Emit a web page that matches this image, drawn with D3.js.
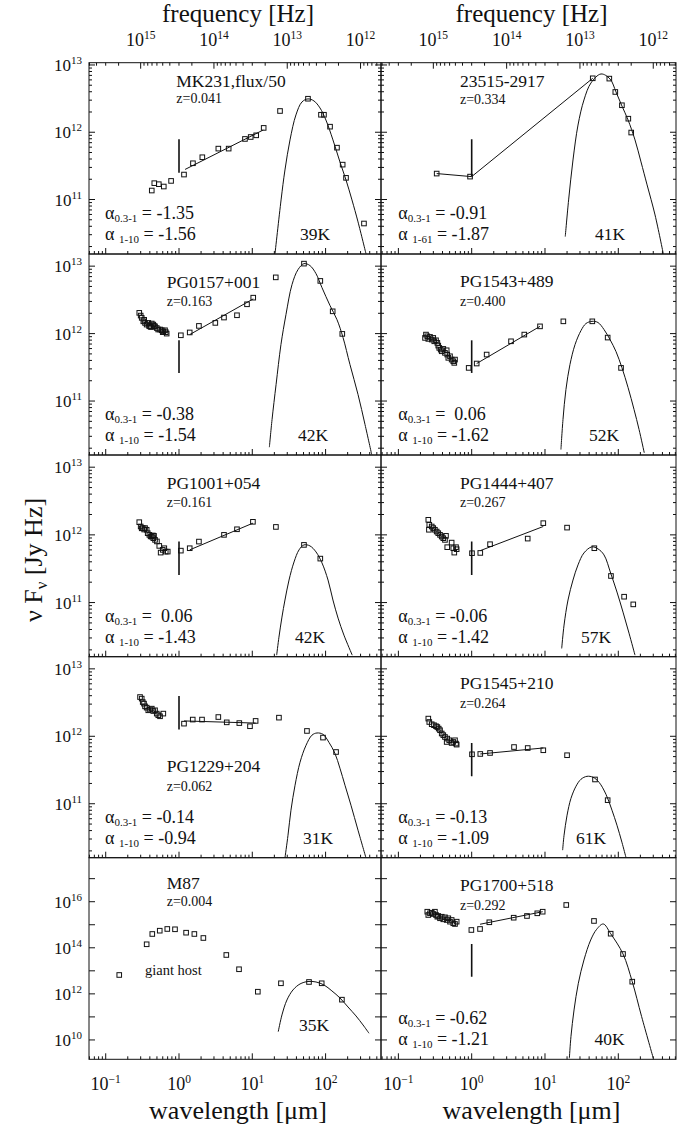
<!DOCTYPE html>
<html><head><meta charset="utf-8">
<script src="https://cdn.jsdelivr.net/npm/d3@7"></script>
<style>
html,body{margin:0;padding:0;background:#fff;}
svg{display:block;font-family:'Liberation Serif','Times New Roman',serif;}
text{fill:#111;white-space:pre;}
</style></head><body>
<script>
// ---------------- DATA ----------------
const panelNames = ["MK231,flux/50","23515-2917","PG0157+001","PG1543+489","PG1001+054","PG1444+407","PG1229+204","PG1545+210","M87","PG1700+518"];
const redshifts  = ["z=0.041","z=0.334","z=0.163","z=0.400","z=0.161","z=0.267","z=0.062","z=0.264","z=0.004","z=0.292"];
const alphaOpt   = ["-1.35","-0.91","-0.38"," 0.06"," 0.06","-0.06","-0.14","-0.13",null,"-0.62"];
const alphaIR    = ["-1.56","-1.87","-1.54","-1.62","-1.43","-1.42","-0.94","-1.09",null,"-1.21"];
const alphaIRSub = ["1-10","1-61","1-10","1-10","1-10","1-10","1-10","1-10",null,"1-10"];
const dustTemps  = ["39K","41K","42K","52K","42K","57K","31K","61K","35K","40K"];

const yTickRows1to4 = [1e13,1e12,1e11];
const yTickRow5 = [1e16,1e14,1e12,1e10];
const yTickExp1to4 = ["13","12","11"];
const yTickExp5 = ["16","14","12","10"];
const waveTicks = [0.1,1,10,100];
const waveTickExp = ["\u22121","0","1","2"];
const freqTicks = [1e15,1e14,1e13,1e12];
const freqTickExp = ["15","14","13","12"];

// MK231
const mk231Points = [[0.425,1.36e11],[0.46,1.75e11],[0.53,1.69e11],[0.62,1.56e11],[0.78,1.89e11],[1.17,2.35e11],[1.55,3.46e11],[2.08,4.25e11],[3.44,5.71e11],[4.76,5.71e11],[7.94,7.95e11],[9.51,8.5e11],[11.3,9.0e11],[14.3,1.16e12],[23.9,2.07e12],[57.5,3.15e12],[86.5,1.82e12],[95,1.82e12],[115,1.21e12],[143,5.9e11],[171,3.3e11],[190,2.1e11],[334,4.4e10]];
const mk231Fit = [[1.21,2.8e11],[14.1,1.08e12]];
const mk231Bar = [[1,7.9e11],[1,2.5e11]];
const mk231Dust = [[20.4,1.56e10],[24.7,9.86e10],[27.9,2.75e11],[32.7,7.69e11],[39.4,1.81e12],[47.6,2.82e12],[57.5,3.13e12],[69.4,2.92e12],[83.8,2.3e12],[101,1.52e12],[126,7.69e11],[157,3.62e11],[190,1.95e11],[229,9.86e10],[277,4.65e10],[356,1.56e10]];

// 23515-2917
const iras23515Points = [[0.333,2.43e11],[0.95,2.19e11],[44.8,6.34e12],[75.4,6.27e12],[91,3.97e12],[112,2.52e12],[137,1.59e12],[150,9.9e11]];
const iras23515Fit = [[0.333,2.43e11],[1.0,2.19e11],[44.8,6.34e12]];
const iras23515Bar = [[1,7.9e11],[1,2.19e11]];
const iras23515Dust = [[18.9,2.81e10],[21.0,9.86e10],[24.1,3.87e11],[28.2,1.28e12],[34.0,3.02e12],[42.4,5.41e12],[58.1,7.35e12],[77.1,6.19e12],[93.1,3.97e12],[112,2.46e12],[136,1.52e12],[169,7.69e11],[204,3.62e11],[247,1.65e11],[317,5.9e10],[411,1.56e10]];

// PG0157+001
const pg0157Points = [[0.287,2.03e12],[0.30,1.85e12],[0.31,1.71e12],[0.326,1.52e12],[0.335,1.6e12],[0.344,1.44e12],[0.362,1.36e12],[0.381,1.44e12],[0.39,1.3e12],[0.402,1.28e12],[0.415,1.25e12],[0.425,1.41e12],[0.446,1.36e12],[0.455,1.3e12],[0.471,1.28e12],[0.497,1.21e12],[0.52,1.15e12],[0.551,1.15e12],[0.581,1.12e12],[0.6,1.05e12],[0.611,1.08e12],[0.644,1.12e12],[0.66,1.05e12],[0.679,1.0e12],[1.06,9.44e11],[1.40,1.04e12],[1.87,1.3e12],[3.13,1.44e12],[4.11,1.73e12],[6.18,1.87e12],[8.47,2.72e12],[10.3,3.41e12],[20.9,6.82e12],[50.7,1.09e13],[84.7,6.04e12],[125,2.14e12],[169,9.9e11]];
const pg0157Fit = [[1.40,9.67e11],[10.3,3.27e12]];
const pg0157Bar = [[1,7.95e11],[1,2.61e11]];
const pg0157Dust = [[17.1,2.07e10],[18.6,5.32e10],[21.1,1.75e11],[24.6,6.87e11],[28.8,1.91e12],[34.8,5.32e12],[42.0,8.87e12],[50.7,1.09e13],[61.2,1.02e13],[74.0,7.74e12],[89.3,4.8e12],[115,2.6e12],[143,1.61e12],[173,8.73e11],[215,3.48e11],[277,1.25e11],[345,4.49e10],[426,1.61e10]];

// PG1543+489
const pg1543Points = [[0.231,8.63e11],[0.238,9.67e11],[0.248,9.12e11],[0.256,8.34e11],[0.27,8.93e11],[0.285,8.15e11],[0.299,8.63e11],[0.309,7.69e11],[0.326,7.96e11],[0.34,7.28e11],[0.35,6.64e11],[0.361,6.14e11],[0.378,5.79e11],[0.39,5.47e11],[0.41,5.93e11],[0.432,5.18e11],[0.456,5.66e11],[0.464,4.89e11],[0.48,4.37e11],[0.506,4.61e11],[0.533,4.12e11],[0.561,3.89e11],[0.579,3.68e11],[0.592,4.12e11],[0.91,3.1e11],[1.17,3.6e11],[1.60,4.89e11],[3.44,7.69e11],[5.22,9.67e11],[8.55,1.28e12],[17.8,1.52e12],[44.2,1.52e12],[71.6,8.73e11],[109,3.1e11]];
const pg1543Fit = [[1.17,3.6e11],[8.55,1.28e12]];
const pg1543Bar = [[1,7.95e11],[1,2.61e11]];
const pg1543Dust = [[16.5,1.91e10],[17.6,5.32e10],[19.3,1.48e11],[21.9,3.47e11],[25.7,6.87e11],[31.0,1.11e12],[36.2,1.41e12],[43.8,1.52e12],[52.8,1.46e12],[63.8,1.15e12],[77.1,8.15e11],[93.1,5.41e11],[112,3.13e11],[136,1.58e11],[164,7.48e10],[192,3.78e10],[226,1.71e10]];

// PG1001+054
const pg1001Points = [[0.287,1.54e12],[0.3,1.33e12],[0.31,1.25e12],[0.32,1.26e12],[0.335,1.2e12],[0.344,1.26e12],[0.362,1.19e12],[0.374,1.06e12],[0.394,1.0e12],[0.41,9.5e11],[0.425,9.44e11],[0.44,9.8e11],[0.446,8.93e11],[0.456,9.67e11],[0.471,8.43e11],[0.5,8.0e11],[0.538,6.87e11],[0.562,5.47e11],[0.6,6.0e11],[0.63,6.35e11],[0.659,5.66e11],[0.702,5.66e11],[1.06,5.85e11],[1.40,6.35e11],[1.87,7.96e11],[4.11,1.0e12],[6.18,1.21e12],[10.2,1.56e12],[21.0,1.31e12],[50.7,7.11e11],[84.7,4.46e11]];
const pg1001Fit = [[1.40,6.0e11],[10.2,1.49e12]];
const pg1001Bar = [[1,7.95e11],[1,2.55e11]];
const pg1001Dust = [[21.5,1.67e10],[23.1,3.08e10],[25.4,6.1e10],[27.9,1.09e11],[31.7,2.15e11],[37.1,3.98e11],[43.4,6.0e11],[50.7,7.11e11],[61.2,6.87e11],[74.0,5.6e11],[89.3,3.85e11],[108,2.15e11],[126,1.09e11],[148,5.89e10],[178,3.3e10],[231,1.67e10]];

// PG1444+407
const pg1444Points = [[0.256,1.67e12],[0.264,1.41e12],[0.261,1.19e12],[0.285,1.33e12],[0.299,1.26e12],[0.315,1.19e12],[0.333,1.12e12],[0.35,1.06e12],[0.37,1.0e12],[0.39,9.44e11],[0.41,8.93e11],[0.446,9.67e11],[0.432,8.43e11],[0.464,6.58e11],[0.533,7.69e11],[0.561,6.35e11],[0.579,5.47e11],[0.611,6.58e11],[0.624,6.14e11],[1.01,5.36e11],[1.31,5.41e11],[1.78,7.28e11],[5.81,8.81e11],[9.48,1.49e12],[20.0,1.28e12],[47.1,6.35e11],[79.4,2.47e11],[120,1.22e11],[160,9.4e10]];
const pg1444Fit = [[1.31,5.85e11],[9.48,1.33e12]];
const pg1444Bar = [[1,7.95e11],[1,2.55e11]];
const pg1444Dust = [[16.9,2.1e10],[18.2,4.65e10],[20.6,1.09e11],[24.1,2.15e11],[28.2,3.6e11],[34.0,5.41e11],[43.4,6.64e11],[52.8,6.21e11],[63.8,5.06e11],[79.4,2.64e11],[95.9,1.43e11],[116,7.22e10],[140,3.53e10],[169,1.67e10]];

// PG1229+204
const pg1229Points = [[0.294,3.82e12],[0.31,3.62e12],[0.32,3.22e12],[0.333,3.05e12],[0.344,2.78e12],[0.362,2.66e12],[0.381,2.43e12],[0.402,2.49e12],[0.425,2.57e12],[0.446,2.37e12],[0.471,2.43e12],[0.497,2.17e12],[0.522,2.05e12],[0.551,1.98e12],[0.611,2.17e12],[1.17,1.54e12],[1.54,1.77e12],[2.06,1.77e12],[3.44,1.93e12],[4.48,1.61e12],[6.65,1.57e12],[9.3,1.41e12],[11.1,1.69e12],[23.1,1.89e12],[55.7,1.2e12],[92.2,9.57e11],[139,5.85e11]];
const pg1229Fit = [[1.17,1.69e12],[11.1,1.57e12]];
const pg1229Bar = [[1,3.95e12],[1,1.26e12]];
const pg1229Dust = [[27.9,1.57e10],[30.7,3.41e10],[33.7,8.02e10],[38.3,1.88e11],[44.8,4.12e11],[54.1,7.36e11],[65.2,1.04e12],[76.4,1.12e12],[92.2,1.07e12],[111,8.15e11],[134,5.6e11],[157,3.36e11],[184,1.88e11],[222,9.5e10],[277,4.05e10],[356,1.57e10]];

// PG1545+210
const pg1545Points = [[0.256,1.83e12],[0.264,1.63e12],[0.285,1.51e12],[0.306,1.46e12],[0.326,1.41e12],[0.34,1.37e12],[0.355,1.3e12],[0.37,1.23e12],[0.39,1.1e12],[0.41,1.04e12],[0.432,9.77e11],[0.456,8.24e11],[0.464,9.25e11],[0.494,8.73e11],[0.533,7.96e11],[0.561,8.24e11],[0.592,8.73e11],[0.611,7.8e11],[0.624,7.53e11],[1.01,5.41e11],[1.31,5.47e11],[1.78,5.66e11],[3.78,6.93e11],[5.81,6.7e11],[9.48,6.21e11],[20.0,5.24e11],[48.1,2.29e11],[71.6,1.13e11]];
const pg1545Fit = [[1.31,5.47e11],[9.48,6.71e11]];
const pg1545Bar = [[1,7.96e11],[1,2.55e11]];
const pg1545Dust = [[17.4,2.05e10],[18.2,3.41e10],[20.0,6.76e10],[22.6,1.2e11],[26.5,1.82e11],[31.0,2.31e11],[37.4,2.55e11],[45.2,2.47e11],[54.6,2.08e11],[67.9,1.38e11],[82.0,8.02e10],[95.9,4.8e10],[112,2.69e10],[127,1.61e10]];

// M87
const m87Points = [[0.153,6.6e12],[0.362,1.42e14],[0.432,3.97e14],[0.546,5.52e14],[0.692,6.55e14],[0.882,6.35e14],[1.25,4.52e14],[1.62,3.97e14],[2.15,2.66e14],[4.42,4.87e13],[6.59,1.17e13],[11.9,1.24e12],[24.6,2.88e12],[59.4,3.28e12],[88.5,2.88e12],[167,5.6e11]];
const m87Dust = [[22.6,2.29e10],[25.4,1.22e11],[29.7,5.43e11],[35.9,1.48e12],[44.8,2.69e12],[57.5,3.45e12],[74.0,3.28e12],[95.1,2.43e12],[122,1.34e12],[157,6.64e11],[202,2.7e11],[260,1.1e11],[324,4.48e10],[391,1.95e10]];

// PG1700+518
const pg1700Points = [[0.248,3.68e15],[0.256,2.65e15],[0.27,3.14e15],[0.285,3.33e15],[0.299,2.93e15],[0.315,3.68e15],[0.326,2.65e15],[0.34,2.23e15],[0.35,2.4e15],[0.37,1.91e15],[0.39,2.23e15],[0.41,1.72e15],[0.432,2.1e15],[0.456,1.61e15],[0.48,1.91e15],[0.506,1.36e15],[0.533,1.61e15],[0.561,1.16e15],[0.592,1.08e15],[0.624,1.36e15],[0.99,5.92e14],[1.30,6.55e14],[1.74,1.28e15],[3.74,2.02e15],[5.68,2.4e15],[7.85,3.14e15],[9.3,3.68e15],[19.5,7.2e15],[46.6,1.46e15],[78.7,4.09e14],[116,5.38e13],[155,3.38e12]];
const pg1700Fit = [[1.30,1.05e15],[9.3,3.68e15]];
const pg1700Bar = [[1,1.46e14],[1,5.57e12]];
const pg1700Dust = [[21.5,1.61e9],[22.6,1.39e10],[24.9,2.0e11],[28.5,2.88e12],[34.0,2.96e13],[42.0,2.18e14],[50.7,6.35e14],[62.4,1.08e15],[78.7,4.09e14],[116,5.38e13],[155,3.38e12],[208,1.03e11],[300,1.61e9]];

// ---------------- LAYOUT ----------------
const W=691,H=1129;
const cLight=2.998e14; // micron*Hz
const cols=[{x0:89,x1:381,dom:[0.05916,570.2]},{x0:381,x1:676,dom:[0.05794,612.4]}];
const rows=[
  {y0:62.7,y1:254,dom:[1.549e10,1.081e13],minor:true},
  {y0:254,y1:455,dom:[1.585e10,1.514e13],minor:true},
  {y0:455,y1:656.7,dom:[1.585e10,1.514e13],minor:true},
  {y0:656.7,y1:857.7,dom:[1.585e10,1.514e13],minor:true},
  {y0:857.7,y1:1059.3,dom:[1.445e9,8.128e17],minor:false}
];
const labelPos=[
  {name:[176.3,86.5],z:[176.3,103],temp:[315,240]},
  {name:[460,86.5],z:[460,104],temp:[610,240]},
  {name:[166.7,287.5],z:[166.7,306],temp:[313,441]},
  {name:[460,287],z:[460,306],temp:[604,441]},
  {name:[166.7,489],z:[166.7,507],temp:[310,642.5]},
  {name:[460,489],z:[460,507],temp:[596,642.5]},
  {name:[166.7,771.7],z:[166.7,790.7],temp:[318,843.5]},
  {name:[460,689],z:[460,708],temp:[591,843.5]},
  {name:[166.7,888.5],z:[166.7,906],temp:[314,1030.7]},
  {name:[460,890.5],z:[460,910],temp:[609.5,1045]}
];
const series=[
  [mk231Points,mk231Fit,mk231Bar,mk231Dust],
  [iras23515Points,iras23515Fit,iras23515Bar,iras23515Dust],
  [pg0157Points,pg0157Fit,pg0157Bar,pg0157Dust],
  [pg1543Points,pg1543Fit,pg1543Bar,pg1543Dust],
  [pg1001Points,pg1001Fit,pg1001Bar,pg1001Dust],
  [pg1444Points,pg1444Fit,pg1444Bar,pg1444Dust],
  [pg1229Points,pg1229Fit,pg1229Bar,pg1229Dust],
  [pg1545Points,pg1545Fit,pg1545Bar,pg1545Dust],
  [m87Points,null,null,m87Dust],
  [pg1700Points,pg1700Fit,pg1700Bar,pg1700Dust]
];
const panels=panelNames.map((n,i)=>({
  name:n,z:redshifts[i],a1:alphaOpt[i],a2:alphaIR[i],a2sub:alphaIRSub[i],temp:dustTemps[i],
  pts:series[i][0],fit:series[i][1],bar:series[i][2],dust:series[i][3],
  col:i%2,row:Math.floor(i/2),pos:labelPos[i]
}));

const svg=d3.select('body').append('svg').attr('width',W).attr('height',H);
const defs=svg.append('defs');
const INK='#111';

function logTicks(dom,withMinor){
  const mn=Math.min(dom[0],dom[1]), mx=Math.max(dom[0],dom[1]);
  const lo=Math.floor(Math.log10(mn)), hi=Math.ceil(Math.log10(mx));
  const out=[];
  for(let e=lo;e<=hi;e++){
    for(let m=1;m<=9;m++){
      if(!withMinor&&m>1) continue;
      const v=m*Math.pow(10,e);
      if(v>=mn*0.9999&&v<=mx*1.0001) out.push({v,major:m===1});
    }
  }
  return out;
}
function powLabel(sel,exp,big,small,rise){
  sel.append('tspan').text('10').attr('font-size',big);
  sel.append('tspan').text(exp).attr('font-size',small).attr('dy',-rise);
}

panels.forEach((p,i)=>{
  const C=cols[p.col], R=rows[p.row];
  const x=d3.scaleLog().domain(C.dom).range([C.x0,C.x1]);
  const y=d3.scaleLog().domain(R.dom).range([R.y1,R.y0]);
  const g=svg.append('g');
  const cid='clip'+i;
  defs.append('clipPath').attr('id',cid).append('rect')
    .attr('x',C.x0).attr('y',R.y0).attr('width',C.x1-C.x0).attr('height',R.y1-R.y0);
  const gc=g.append('g').attr('clip-path',`url(#${cid})`);
  const curve=d3.line().x(d=>x(d[0])).y(d=>y(d[1])).curve(d3.curveCatmullRom.alpha(0.5));
  gc.append('path').datum(p.dust).attr('d',curve)
    .attr('fill','none').attr('stroke',INK).attr('stroke-width',1);
  const lin=d3.line().x(d=>x(d[0])).y(d=>y(d[1]));
  if(p.fit) gc.append('path').datum(p.fit).attr('d',lin).attr('fill','none').attr('stroke',INK).attr('stroke-width',1);
  if(p.bar) gc.append('path').datum(p.bar).attr('d',lin).attr('fill','none').attr('stroke',INK).attr('stroke-width',1.6);
  const s=4.6;
  gc.selectAll('rect.pt').data(p.pts).join('rect').attr('class','pt')
    .attr('x',d=>x(d[0])-s/2).attr('y',d=>y(d[1])-s/2).attr('width',s).attr('height',s)
    .attr('fill','none').attr('stroke',INK).attr('stroke-width',1);

  g.append('rect').attr('x',C.x0).attr('y',R.y0).attr('width',C.x1-C.x0).attr('height',R.y1-R.y0)
    .attr('fill','none').attr('stroke',INK).attr('stroke-width',1);
  logTicks(C.dom,true).forEach(t=>{
    const len=t.major?6:3;
    g.append('line').attr('x1',x(t.v)).attr('x2',x(t.v)).attr('y1',R.y1).attr('y2',R.y1-len)
      .attr('stroke',INK).attr('stroke-width',1);
  });
  if(p.row===0){
    const fdom=[cLight/C.dom[0],cLight/C.dom[1]];
    const fx=d3.scaleLog().domain(fdom).range([C.x0,C.x1]);
    logTicks(fdom,true).forEach(t=>{
      const len=t.major?6:3;
      g.append('line').attr('x1',fx(t.v)).attr('x2',fx(t.v)).attr('y1',R.y0).attr('y2',R.y0+len)
        .attr('stroke',INK).attr('stroke-width',1);
    });
    freqTicks.forEach((f,k)=>{
      const t=g.append('text').attr('x',fx(f)).attr('y',46).attr('text-anchor','middle');
      powLabel(t,freqTickExp[k],18,11.5,7);
    });
    g.append('text').attr('x',(C.x0+C.x1)/2+3).attr('y',22).attr('text-anchor','middle')
      .attr('font-size',25).text('frequency [Hz]');
  }
  logTicks(R.dom,R.minor).forEach(t=>{
    const len=t.major?6:3;
    g.append('line').attr('x1',C.x0).attr('x2',C.x0+len).attr('y1',y(t.v)).attr('y2',y(t.v)).attr('stroke',INK);
    g.append('line').attr('x1',C.x1).attr('x2',C.x1-len).attr('y1',y(t.v)).attr('y2',y(t.v)).attr('stroke',INK);
  });
  if(p.col===0){
    const vals=p.row===4?yTickRow5:yTickRows1to4, exps=p.row===4?yTickExp5:yTickExp1to4;
    vals.forEach((v,k)=>{
      const t=g.append('text').attr('x',C.x0-7).attr('y',y(v)+6).attr('text-anchor','end');
      powLabel(t,exps[k],17,11,7);
    });
  }
  if(p.row===4){
    waveTicks.forEach((v,k)=>{
      const t=g.append('text').attr('x',x(v)).attr('y',1090).attr('text-anchor','middle');
      powLabel(t,waveTickExp[k],18,11.5,7);
    });
    g.append('text').attr('x',(C.x0+C.x1)/2+3).attr('y',1119).attr('text-anchor','middle')
      .attr('font-size',26).text('wavelength [\u03bcm]');
  }
  g.append('text').attr('x',p.pos.name[0]).attr('y',p.pos.name[1]).attr('font-size',17.5).text(p.name);
  g.append('text').attr('x',p.pos.z[0]).attr('y',p.pos.z[1]).attr('font-size',14).text(p.z);
  g.append('text').attr('x',p.pos.temp[0]).attr('y',p.pos.temp[1]).attr('font-size',17.5)
    .attr('text-anchor','middle').text(p.temp);
  if(p.a1!==null){
    const ax=C.x0+(p.col===0?16:17.3);
    const t1=g.append('text').attr('x',ax).attr('y',R.y1-35).attr('font-size',18);
    t1.append('tspan').text('\u03b1');
    t1.append('tspan').text('0.3-1').attr('font-size',11).attr('dy',3);
    t1.append('tspan').text(' = '+p.a1).attr('dy',-3);
    const t2=g.append('text').attr('x',ax).attr('y',R.y1-14).attr('font-size',18);
    t2.append('tspan').text('\u03b1 ');
    t2.append('tspan').text(p.a2sub).attr('font-size',11).attr('dy',3);
    t2.append('tspan').text(' = '+p.a2).attr('dy',-3);
  }
  if(p.name==='M87'){
    g.append('text').attr('x',145).attr('y',975).attr('font-size',14.5).text('giant host');
  }
});

const yt=svg.append('text').attr('transform','translate(42,560) rotate(-90)').attr('text-anchor','middle').attr('font-size',26);
yt.append('tspan').text('\u03bd F');
yt.append('tspan').text('\u03bd').attr('font-size',17).attr('dy',5);
yt.append('tspan').text(' [Jy Hz]').attr('dy',-5);
</script>
</body></html>
